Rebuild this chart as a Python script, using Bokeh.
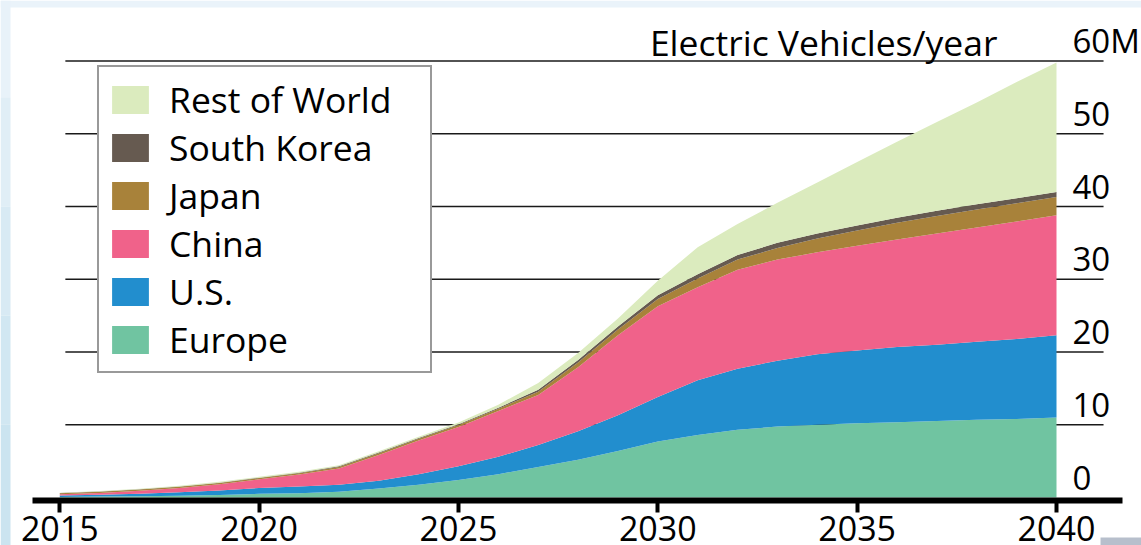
from bokeh.plotting import figure
from bokeh.models import (Range1d, LinearAxis, FixedTicker, Legend, LegendItem,
                          ColumnDataSource, Label, BoxAnnotation)
from bokeh.embed import file_html
from bokeh.resources import INLINE

# Annual electric-vehicle sales by region, millions
years = list(range(2015, 2041))
europe = [0.08, 0.13, 0.18, 0.25, 0.35, 0.50, 0.60, 0.80, 1.25, 1.75, 2.40, 3.20, 4.20,
          5.20, 6.40, 7.70, 8.60, 9.30, 9.75, 10.00, 10.20, 10.35, 10.50, 10.70, 10.80, 11.00]
us = [0.20, 0.25, 0.34, 0.47, 0.60, 0.80, 0.90, 0.95, 1.05, 1.45, 1.90, 2.40, 3.00,
      3.90, 4.90, 6.10, 7.50, 8.40, 9.05, 9.70, 10.00, 10.35, 10.50, 10.70, 11.00, 11.30]
china = [0.17, 0.24, 0.40, 0.58, 0.87, 1.20, 1.65, 2.25, 3.55, 4.65, 5.40, 6.30, 6.90,
         8.80, 11.00, 12.50, 12.80, 13.60, 13.90, 14.00, 14.40, 14.75, 15.30, 15.70, 16.15, 16.50]
japan = [0.15, 0.17, 0.17, 0.17, 0.17, 0.17, 0.18, 0.20, 0.22, 0.22, 0.25, 0.30, 0.45,
         0.65, 0.80, 1.00, 1.20, 1.40, 1.60, 1.90, 2.10, 2.30, 2.40, 2.50, 2.50, 2.50]
korea = [0.03, 0.03, 0.03, 0.04, 0.05, 0.05, 0.07, 0.08, 0.10, 0.10, 0.12, 0.15, 0.25,
         0.35, 0.40, 0.50, 0.60, 0.65, 0.70, 0.70, 0.70, 0.70, 0.70, 0.70, 0.70, 0.70]
rest = [0.03, 0.08, 0.08, 0.09, 0.11, 0.13, 0.15, 0.17, 0.18, 0.18, 0.23, 0.40, 0.95,
        0.95, 1.10, 2.00, 3.70, 4.25, 5.50, 7.00, 8.70, 10.45, 12.20, 14.00, 15.95, 17.80]

series = ["Europe", "U.S.", "China", "Japan", "South Korea", "Rest of World"]
colors = ["#70c4a1", "#228ece", "#f0628a", "#a8823a", "#665a50", "#dbebbe"]

x_ticks = [2015, 2020, 2025, 2030, 2035, 2040]
y_ticks = [0, 10, 20, 30, 40, 50, 60]
grid_levels = [10, 20, 30, 40, 50, 60]

FONT = "Open Sans"

source = ColumnDataSource(dict(year=years, **{
    "Europe": europe, "U.S.": us, "China": china, "Japan": japan,
    "South Korea": korea, "Rest of World": rest}))

X0, X1 = 2013.513, 2042.132
Y0, Y1 = -6.598, 68.316
p = figure(width=1141, height=545, output_backend="svg", toolbar_location=None,
           x_range=Range1d(X0, X1), y_range=Range1d(Y0, Y1),
           x_axis_location=None, y_axis_location=None, title=None,
           min_border=0, min_border_left=0, min_border_right=0,
           min_border_top=0, min_border_bottom=0)
p.outline_line_color = None
p.background_fill_color = "white"
p.border_fill_color = "white"
p.grid.visible = False

# horizontal reference lines, partly hidden by the areas
p.segment(x0=2015.14, x1=2041.18, y0=grid_levels, y1=grid_levels,
          line_color="#1a1a1a", line_width=1.6)

areas = p.varea_stack(stackers=series, x="year", color=colors, source=source)

# bottom year axis drawn inside the frame
xaxis = LinearAxis(ticker=FixedTicker(ticks=x_ticks), fixed_location=-0.412,
                   bounds=(2014.315, 2041.655))
xaxis.axis_line_color = "black"
xaxis.axis_line_width = 6
xaxis.major_tick_line_color = "black"
xaxis.major_tick_line_width = 4
xaxis.major_tick_out = 12
xaxis.major_tick_in = 0
xaxis.minor_tick_line_color = None
xaxis.major_label_standoff = 4
xaxis.major_label_text_font = FONT
xaxis.major_label_text_font_size = "34px"
xaxis.major_label_text_color = "black"
p.add_layout(xaxis, "below")

# value labels sit just above their reference lines
LIFT = 2.8
p.extra_y_ranges = {"labels": Range1d(Y0 - LIFT, Y1 - LIFT)}
yaxis = LinearAxis(y_range_name="labels", ticker=FixedTicker(ticks=y_ticks),
                   fixed_location=2040.401, major_label_overrides={60: "60M"})
yaxis.axis_line_color = None
yaxis.major_tick_line_color = None
yaxis.minor_tick_line_color = None
yaxis.major_tick_out = 0
yaxis.major_tick_in = 0
yaxis.major_label_standoff = 0
yaxis.major_label_text_font = FONT
yaxis.major_label_text_font_size = "33px"
yaxis.major_label_text_color = "black"
p.add_layout(yaxis, "right")

p.add_layout(Label(x=2038.52, y=62.55, text="Electric Vehicles/year",
                   text_align="right", text_baseline="alphabetic",
                   text_font=FONT, text_font_size="35.5px", text_color="black"))

items = [LegendItem(label=name, renderers=[r])
         for name, r in reversed(list(zip(series, areas)))]
legend = Legend(items=items, location=(97, 172), orientation="vertical",
                glyph_width=46, glyph_height=35, label_standoff=16,
                label_width=253, padding=8, spacing=0, margin=0,
                label_text_font=FONT, label_text_font_size="35.5px",
                label_text_color="black",
                border_line_color="#333333", border_line_width=2,
                background_fill_color="white", background_fill_alpha=1.0)
p.add_layout(legend)

# pale blue page edge
p.add_layout(BoxAnnotation(top=Y1, bottom=67.35, fill_color="#eaf3fa", fill_alpha=1,
                           line_color=None))
edge = ["#e8f2f9", "#e0eef6", "#d8eaf4", "#d1e7f2", "#cbe4f0"]
cuts = [Y1, 55, 40, 25, 10, Y0]
for c, top, bot in zip(edge, cuts[:-1], cuts[1:]):
    p.add_layout(BoxAnnotation(left=X0, right=2013.764, top=top, bottom=bot,
                               fill_color=c, fill_alpha=1, line_color=None))
# grey sliver in the lower right corner
p.add_layout(BoxAnnotation(left=2041.104, right=X1, top=-5.498, bottom=Y0,
                           fill_color="#b7bfcc", fill_alpha=1, line_color=None))

open("out.html", "w").write(file_html(p, INLINE))
